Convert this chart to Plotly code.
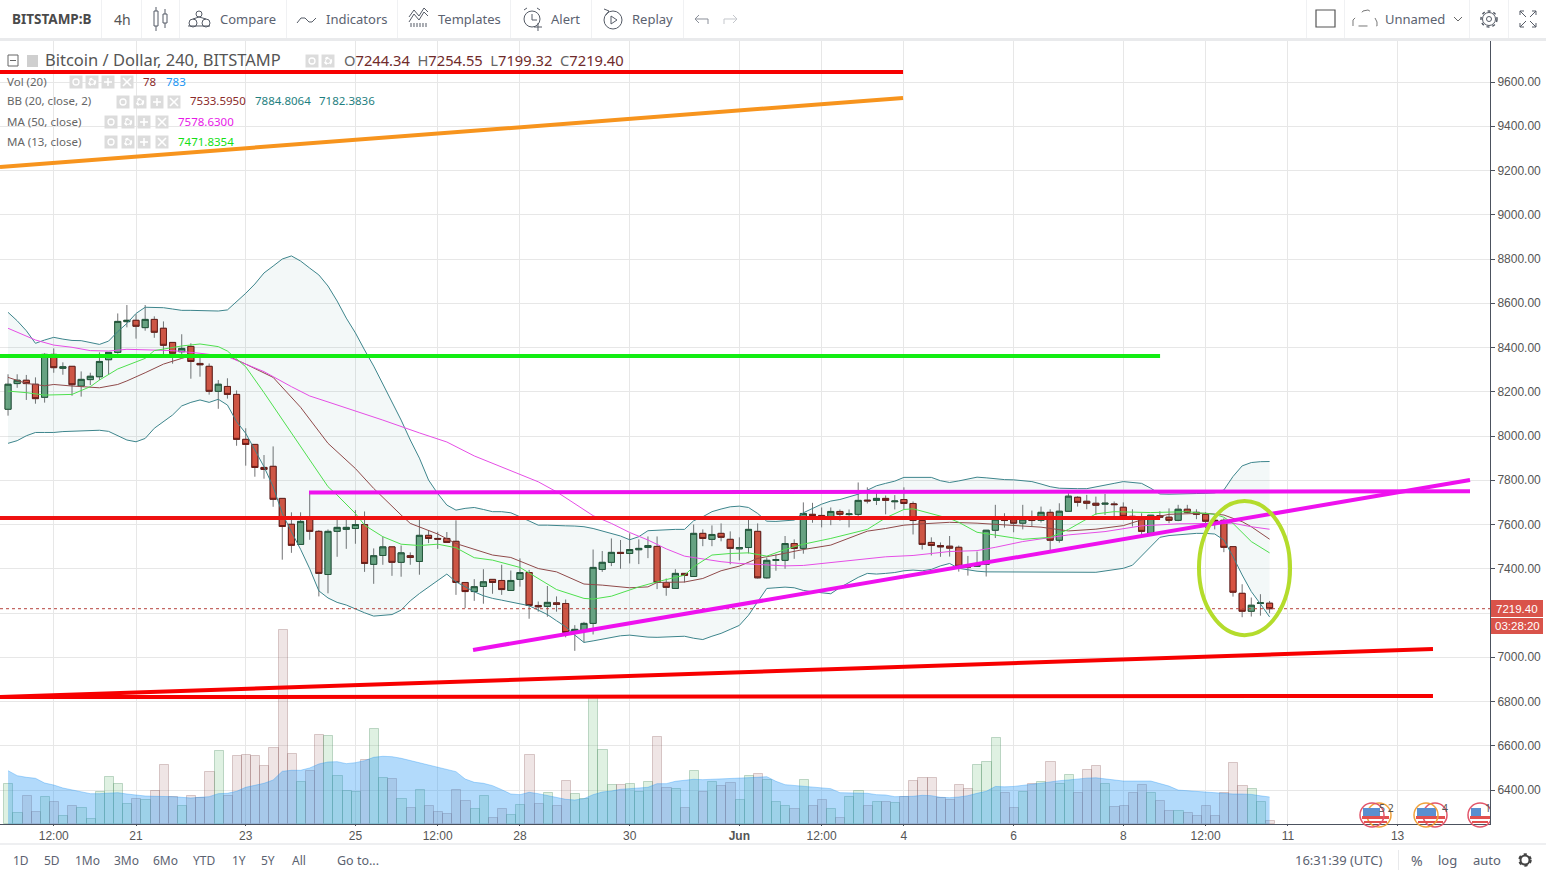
import pandas as pd
import plotly.graph_objects as go

START = "2018-05-18 16:00"
opens = [8121,8237,8252,8234,8175,8369,8306,8315,8226,8255,
8268,8345,8378,8517,8523,8490,8527,8487,8423,8381,
8405,8328,8315,8202,8224,8188,7985,7962,7858,7863,
7718,7601,7510,7623,7569,7374,7569,7578,7582,7600,
7420,7460,7499,7429,7459,7433,7551,7537,7537,7524,
7338,7297,7320,7352,7347,7302,7352,7383,7234,7230,
7246,7243,7112,7117,7153,7397,7429,7474,7469,7486,
7496,7501,7338,7311,7379,7365,7560,7533,7560,7533,
7490,7496,7569,7359,7438,7438,7514,7492,7646,7641,
7623,7659,7645,7646,7710,7709,7718,7703,7713,7695,
7618,7519,7505,7502,7497,7413,7411,7420,7574,7624,
7621,7606,7624,7619,7655,7529,7660,7723,7705,7696,
7692,7693,7678,7637,7633,7560,7640,7633,7619,7669,
7655,7646,7619,7619,7500,7289,7208,7243,7244.34]
highs = [8279,8279,8276,8265,8374,8396,8333,8315,8292,8286,
8378,8378,8554,8592,8551,8592,8541,8518,8423,8460,
8419,8365,8328,8253,8261,8206,8035,7962,7914,7953,
7718,7655,7655,7741,7575,7578,7638,7628,7665,7659,
7492,7545,7499,7505,7474,7623,7573,7567,7566,7619,
7338,7353,7398,7352,7418,7392,7447,7395,7252,7322,
7275,7261,7145,7160,7487,7480,7537,7530,7560,7533,
7546,7546,7356,7398,7379,7600,7578,7596,7605,7569,
7542,7623,7605,7451,7465,7548,7533,7700,7698,7677,
7677,7668,7668,7790,7768,7753,7731,7733,7768,7704,
7623,7542,7519,7548,7505,7458,7478,7574,7689,7651,
7639,7689,7663,7681,7669,7696,7750,7728,7734,7726,
7738,7704,7700,7669,7651,7642,7660,7673,7689,7689,
7669,7655,7643,7628,7500,7330,7270,7285,7254.55]
lows = [8092,8218,8163,8146,8151,8286,8277,8182,8178,8230,
8253,8277,8372,8491,8440,8476,8444,8363,8327,8365,
8259,8268,8187,8123,8169,7956,7866,7816,7807,7680,
7441,7472,7510,7531,7275,7289,7454,7490,7513,7386,
7332,7418,7368,7364,7418,7373,7516,7490,7519,7282,
7222,7255,7242,7287,7282,7302,7319,7174,7206,7183,
7206,7090,7029,7067,7103,7386,7412,7400,7424,7421,
7448,7308,7278,7311,7338,7365,7502,7502,7524,7420,
7438,7469,7356,7355,7391,7400,7445,7468,7608,7587,
7597,7617,7587,7623,7695,7688,7646,7668,7668,7555,
7487,7460,7454,7455,7387,7369,7410,7365,7539,7586,
7565,7578,7591,7609,7485,7518,7660,7681,7669,7643,
7643,7624,7633,7591,7547,7557,7628,7606,7615,7651,
7624,7583,7578,7475,7274,7181,7184,7188,7199.32]
closes = [8234,8252,8237,8169,8369,8309,8313,8232,8256,8270,
8337,8378,8518,8523,8496,8527,8469,8410,8374,8396,
8337,8322,8202,8234,8188,7985,7962,7858,7849,7714,
7591,7506,7614,7569,7379,7569,7587,7587,7600,7424,
7459,7499,7429,7472,7451,7551,7537,7534,7519,7338,
7297,7319,7341,7338,7306,7347,7383,7234,7228,7248,
7239,7112,7126,7153,7406,7429,7474,7469,7487,7492,
7505,7338,7316,7379,7370,7560,7537,7555,7542,7492,
7496,7578,7359,7438,7441,7514,7492,7650,7641,7623,
7659,7646,7648,7709,7707,7718,7709,7706,7695,7618,
7510,7505,7499,7493,7411,7408,7420,7574,7624,7618,
7606,7624,7618,7655,7529,7660,7728,7700,7696,7687,
7696,7690,7637,7633,7569,7642,7633,7619,7669,7655,
7646,7615,7616,7497,7294,7208,7235,7246,7219.40]
volumes = [1160,319,812,348,783,638,232,522,464,145,
928,1363,1160,580,725,696,967,1712,783,522,
812,754,1508,2118,812,1973,2002,1973,1683,2205,
5628,2031,1218,1538,2582,2553,1392,957,928,1857,
2756,1334,1305,725,464,986,522,348,290,986,
667,435,812,174,435,261,551,2002,580,899,
522,1247,870,725,3723,2147,1131,1131,1160,938,
1218,2524,1044,1015,464,1538,938,1218,1102,1189,
696,1392,1450,1276,638,522,435,1276,522,696,
435,174,783,957,522,638,638,609,783,1247,
1334,1334,754,696,1131,1015,1712,1800,2481,911,
471,942,1152,1225,1790,1173,1413,890,1570,1696,
1173,503,534,890,1131,911,660,377,377,314,
220,534,220,911,1759,1099,1005,628,78]
vol_ma = [1547,1402,1354,1325,1189,1131,1044,986,938,880,
880,890,909,870,832,812,803,803,793,774,
754,774,793,880,890,948,1064,1122,1180,1276,
1528,1557,1557,1625,1741,1799,1808,1750,1779,1837,
1934,1963,1953,1905,1837,1779,1712,1644,1567,1518,
1305,1209,1180,1112,996,870,851,919,880,822,
754,716,696,735,851,928,957,1006,1025,1035,
1064,1170,1170,1238,1257,1296,1286,1296,1305,1315,
1315,1334,1354,1373,1238,1141,1122,1102,1083,1054,
1025,909,899,909,890,851,841,793,793,803,
832,822,774,764,783,822,890,948,1089,1078,
1089,1131,1152,1183,1225,1256,1277,1309,1330,1340,
1309,1277,1246,1246,1246,1246,1173,1099,984,963,
942,932,890,869,869,869,859,817,783]
bb_upper = [8559,8521,8476,8419,8434,8446,8438,8432,8431,8423,
8414,8429,8472,8509,8554,8582,8582,8580,8574,8568,
8568,8567,8564,8565,8570,8607,8645,8687,8737,8768,
8800,8814,8791,8759,8728,8678,8610,8533,8466,8389,
8316,8235,8154,8072,7982,7900,7801,7740,7688,7665,
7673,7677,7668,7658,7658,7653,7635,7617,7597,7597,
7597,7594,7593,7590,7582,7570,7560,7548,7531,7545,
7572,7575,7576,7578,7578,7617,7635,7658,7670,7680,
7683,7677,7650,7615,7614,7617,7620,7653,7673,7692,
7706,7713,7725,7737,7755,7775,7786,7796,7813,7814,
7814,7813,7798,7790,7797,7805,7814,7811,7806,7803,
7802,7799,7794,7783,7771,7764,7762,7762,7762,7771,
7777,7786,7794,7791,7786,7764,7738,7737,7737,7738,
7740,7741,7743,7756,7817,7865,7880,7884,7884.81]
bb_lower = [7967,7979,8001,8016,8016,8016,8020,8021,8023,8026,
8026,8021,8001,7982,7974,7989,8035,8065,8095,8136,
8152,8163,8152,8166,8140,8065,8012,7937,7861,7771,
7650,7567,7488,7400,7300,7268,7248,7236,7218,7201,
7186,7189,7193,7213,7255,7288,7318,7349,7376,7341,
7319,7296,7278,7266,7258,7249,7243,7233,7213,7193,
7165,7138,7100,7067,7074,7082,7089,7097,7100,7094,
7091,7090,7091,7092,7095,7086,7080,7095,7108,7126,
7144,7190,7251,7311,7314,7317,7314,7302,7296,7290,
7287,7315,7337,7361,7379,7376,7379,7383,7391,7394,
7391,7397,7413,7424,7402,7395,7389,7386,7386,7386,
7384,7384,7384,7386,7387,7386,7384,7384,7384,7384,
7390,7395,7402,7416,7458,7503,7542,7550,7554,7557,
7560,7560,7557,7530,7455,7372,7297,7241,7182.38]
bb_mid_at = [0,2,4,5,7,10,12,13,15,17,19,20,21,24,26,29,32,35,38,40,43,44,47,49,53,55,58,60,63,65,68,70,71,74,76,78,80,82,84,87,90,94,96,98,100,103,106,110,113,116,119,122,124,127,131,133,135,136,138]
bb_mid = [8265,8238,8227,8233,8226,8218,8233,8249,8286,8325,8351,8363,8366,8363,8325,8265,8130,7967,7853,7763,7643,7605,7557,7514,7462,7451,7401,7386,7331,7326,7314,7318,7338,7340,7356,7391,7412,7447,7462,7487,7507,7570,7582,7597,7603,7610,7606,7594,7588,7571,7579,7595,7621,7646,7651,7643,7613,7590,7533.6]
ma13_at = [0,2,4,7,9,10,12,15,16,19,21,23,24,26,28,31,33,35,36,38,39,41,43,45,47,49,51,53,56,58,60,63,64,66,68,69,71,74,75,77,79,81,83,85,87,90,94,96,98,99,103,104,106,108,111,114,116,119,121,125,129,132,133,134,136,138]
ma13 = [8203,8196,8185,8188,8223,8253,8303,8351,8386,8407,8416,8404,8384,8313,8196,8012,7891,7771,7733,7650,7597,7545,7511,7505,7511,7495,7450,7439,7406,7356,7306,7266,7263,7276,7306,7318,7341,7371,7409,7462,7469,7472,7457,7487,7511,7537,7578,7630,7668,7671,7627,7610,7565,7553,7533,7542,7578,7648,7658,7654,7658,7646,7633,7605,7523,7471.84]
ma50_at = [0,3,5,7,9,11,13,16,18,21,24,26,28,31,33,35,37,41,45,48,51,54,55,58,60,62,64,66,68,70,72,74,75,78,80,82,85,87,90,94,96,99,103,106,108,111,114,116,120,124,128,131,134,136,138]
ma50 = [8487,8434,8411,8401,8386,8384,8392,8389,8386,8374,8359,8325,8291,8223,8181,8154,8127,8072,8014,7973,7910,7860,7846,7793,7748,7695,7640,7605,7564,7530,7490,7457,7450,7432,7424,7420,7413,7415,7428,7447,7454,7460,7478,7482,7497,7523,7542,7553,7568,7594,7603,7606,7606,7590,7578.63]

tick_dates = ["2018-05-19 12:00","2018-05-21","2018-05-23","2018-05-25","2018-05-26 12:00","2018-05-28","2018-05-30",
              "2018-06-01","2018-06-02 12:00","2018-06-04","2018-06-06","2018-06-08","2018-06-09 12:00","2018-06-11","2018-06-13"]
tick_labels = ["12:00","21","23","25","12:00","28","30","<b>Jun</b>","12:00","4","6","8","12:00","11","13"]
price_ticks = [6400,6600,6800,7000,7200,7400,7600,7800,8000,8200,8400,8600,8800,9000,9200,9400,9600]
price_labels = ["6400.00","6600.00","6800.00","7000.00","","7400.00","7600.00","7800.00","8000.00","8200.00","8400.00","8600.00","8800.00","9000.00","9200.00","9400.00","9600.00"]

XMIN, XMAX = "2018-05-18 12:29", "2018-06-14 16:27"
trend_lines = [
    ("#f70000", 4, [XMIN, "2018-06-03 23:37"], [9645, 9645]),
    ("#f7941d", 4, [XMIN, "2018-06-03 23:37"], [9216, 9528]),
    ("#13ed13", 4, [XMIN, "2018-06-08 16:05"], [8362, 8362]),
    ("#ee1111", 4, [XMIN, "2018-06-08 16:05"], [7629, 7629]),
    ("#ee11ee", 4, ["2018-05-24 03:42", "2018-06-14 07:42"], [7745, 7750]),
    ("#ee11ee", 4, ["2018-05-27 03:28", "2018-06-14 07:42"], [7033, 7801]),
    ("#f70000", 4, [XMIN, "2018-06-13 15:30"], [6820, 7037]),
    ("#f70000", 4, [XMIN, "2018-06-13 15:30"], [6820, 6825]),
]

dates = pd.date_range(START, periods=len(opens), freq="4h")
W, H = 1546, 876
L, R, T, B = 0, 1490, 40, 824

def fx(x): return (x - L) / (R - L)
def fy(y): return (B - y) / (B - T)

annotations, shapes = [], []
def label(x, y, text, size=12, color="#555", anchor="left", family="Noto Sans"):
    annotations.append(dict(xref="paper", yref="paper", x=fx(x), y=fy(y), text=text, showarrow=False,
                            xanchor=anchor, yanchor="middle", align=anchor, borderpad=0,
                            font=dict(size=size, color=color, family=family)))
def rect(x0, y0, x1, y1, fill="rgba(0,0,0,0)", line=None, w=1):
    shapes.append(dict(type="rect", xref="paper", yref="paper", x0=fx(x0), x1=fx(x1), y0=fy(y0), y1=fy(y1),
                       fillcolor=fill, line=dict(color=line or fill, width=w if line else 0), layer="above"))
def circ(cx, cy, r, line="#555", w=1, fill="rgba(0,0,0,0)", dash="solid"):
    shapes.append(dict(type="circle", xref="paper", yref="paper", x0=fx(cx-r), x1=fx(cx+r), y0=fy(cy-r), y1=fy(cy+r),
                       fillcolor=fill, line=dict(color=line, width=w, dash=dash), layer="above"))
def poly(pts, line="#555", w=1, dash="solid"):
    p = "M " + " L ".join(f"{fx(a):.5f} {fy(b):.5f}" for a, b in pts)
    shapes.append(dict(type="path", xref="paper", yref="paper", path=p, line=dict(color=line, width=w, dash=dash), layer="above"))

fig = go.Figure()
# volume on the base axis, price overlaid
vol_colors = ["rgba(110,190,125,0.22)" if c >= o else "rgba(160,100,100,0.17)" for o, c in zip(opens, closes)]
vol_lines = ["rgba(90,150,110,0.35)" if c >= o else "rgba(130,80,80,0.28)" for o, c in zip(opens, closes)]
fig.add_trace(go.Bar(x=dates, y=volumes, width=14400000, offset=-5900000,
                     marker=dict(color=vol_colors, line=dict(color=vol_lines, width=1)), yaxis="y", xaxis="x"))
fig.add_trace(go.Scatter(x=dates, y=vol_ma, mode="lines", fill="tozeroy", fillcolor="rgba(33,150,243,0.35)",
                         line=dict(color="rgba(33,150,243,0.35)", width=1), yaxis="y"))
# Bollinger band
fig.add_trace(go.Scatter(x=dates, y=bb_upper, mode="lines", line=dict(color="#3d858c", width=1), yaxis="y2"))
fig.add_trace(go.Scatter(x=dates, y=bb_lower, mode="lines", line=dict(color="#3d858c", width=1), yaxis="y2",
                         fill="tonexty", fillcolor="rgba(38,128,128,0.055)"))
fig.add_trace(go.Scatter(x=[dates[i] for i in bb_mid_at], y=bb_mid, mode="lines", line=dict(color="#8f4a4a", width=1), yaxis="y2"))
fig.add_trace(go.Scatter(x=[dates[i] for i in ma50_at], y=ma50, mode="lines", line=dict(color="#e64ee6", width=1), yaxis="y2"))
fig.add_trace(go.Scatter(x=[dates[i] for i in ma13_at], y=ma13, mode="lines", line=dict(color="#4fe04f", width=1), yaxis="y2"))
# last price line and drawn trend lines sit under the candles
fig.add_trace(go.Scatter(x=[XMIN, XMAX], y=[closes[-1]] * 2, mode="lines", line=dict(color="#b5433d", width=1, dash="dot"), yaxis="y2"))
for color, width, xs, ys in trend_lines:
    fig.add_trace(go.Scatter(x=xs, y=ys, mode="lines", line=dict(color=color, width=width), yaxis="y2"))
# wicks, then bodies
WICK = "#737375"
fig.add_trace(go.Candlestick(x=dates, open=opens, high=highs, low=lows, close=closes, yaxis="y2",
    increasing=dict(line=dict(color=WICK, width=1), fillcolor=WICK),
    decreasing=dict(line=dict(color=WICK, width=1), fillcolor=WICK)))
fig.add_trace(go.Candlestick(x=dates, open=opens, close=closes, yaxis="y2",
    high=[max(o, c) for o, c in zip(opens, closes)], low=[min(o, c) for o, c in zip(opens, closes)],
    increasing=dict(line=dict(color="#225437", width=1), fillcolor="#6ba583"),
    decreasing=dict(line=dict(color="#6b1a15", width=1), fillcolor="#d75442")))
shapes.append(dict(type="circle", xref="x", yref="y2", x0="2018-06-09 09:07", x1="2018-06-11 00:58", y0=7100, y1=7706,
                   line=dict(color="#b4dc2c", width=4), layer="above"))

# chrome: toolbars
rect(0, 0, W, 38, "#ffffff")
rect(0, 38, W, 41, "#e9eaec")
rect(0, 843, W, 845, "#eeeff1")
for x in [101, 141, 179, 286, 397, 510, 591, 683, 1306, 1344, 1469, 1508]:
    rect(x, 0, x + 1, 38, "#f0f1f3")
rect(1398, 850, 1399, 870, "#e8e9eb")

label(11, 19, "<b>BITSTAMP:B</b>", 13.5, "#4a4a4a")
label(122, 19, "4h", 14, "#555", "center")
label(219, 19, "Compare", 13, "#5b6270")
label(325, 19, "Indicators", 13, "#5b6270")
label(437, 19, "Templates", 13, "#5b6270")
label(550, 19, "Alert", 13, "#5b6270")
label(631, 19, "Replay", 13, "#5b6270")
label(1384, 19, "Unnamed", 13, "#5b6270")

IC = "#555b66"
# candle icon
rect(154, 11, 158, 26, line=IC); poly([(156, 7), (156, 11)], IC); poly([(156, 26), (156, 31)], IC)
rect(163, 14, 167, 23, line=IC); poly([(165, 9), (165, 14)], IC); poly([(165, 23), (165, 28)], IC)
# compare icon
circ(193, 23, 4, IC); circ(206, 23, 4, IC); circ(199, 14, 3, IC); poly([(193, 19), (199, 17), (206, 19)], IC); poly([(188, 26), (210, 26)], IC)
# indicators icon
poly([(297, 23), (301, 18), (305, 18), (309, 22), (312, 22), (316, 18)], IC)
# templates icon
poly([(409, 22), (414, 14), (419, 20), (424, 12), (428, 16)], IC); poly([(409, 17), (414, 10), (419, 16), (424, 8), (428, 12)], IC)
for x in [411, 414, 417, 420, 423, 426]:
    poly([(x, 27), (x, 23)], IC)
# alert icon
circ(532, 19, 8, IC); poly([(532, 14), (532, 20), (537, 20)], IC); poly([(524, 10), (527, 8)], IC); poly([(540, 10), (537, 8)], IC); poly([(534, 27), (542, 27)], IC); poly([(538, 23), (538, 31)], IC)
# replay icon
circ(613, 20, 9, IC); poly([(611, 16), (617, 20), (611, 24), (611, 16)], IC); poly([(604, 9), (609, 11), (606, 15)], IC)
# undo / redo
poly([(696, 19), (708, 19), (708, 24)], "#8a8f99"); poly([(699, 15), (695, 19), (699, 23)], "#8a8f99")
poly([(736, 19), (724, 19), (724, 24)], "#c4c7cc"); poly([(733, 15), (737, 19), (733, 23)], "#c4c7cc")
# right side icons
rect(1316, 10, 1335, 27, line="#555", w=1.2)
poly([(1353, 26), (1353, 20), (1356, 17), (1360, 15), (1363, 11), (1368, 10), (1373, 13), (1375, 18), (1377, 22), (1377, 26), (1353, 26)], "#777", 1, "dash")
poly([(1454, 17), (1458, 21), (1462, 17)], "#666")
circ(1489, 19, 8, IC, 1.5, dash="dot"); circ(1489, 19, 6.5, IC, 1); circ(1489, 19, 2.5, IC)
for a, b in [((1520, 11), (1526, 17)), ((1536, 11), (1530, 17)), ((1520, 27), (1526, 21)), ((1536, 27), (1530, 21))]:
    poly([a, b], IC)
for p in [[(1520, 15), (1520, 11), (1524, 11)], [(1532, 11), (1536, 11), (1536, 15)], [(1520, 23), (1520, 27), (1524, 27)], [(1532, 27), (1536, 27), (1536, 23)]]:
    poly(p, IC)

# bottom bar
for x, t in [(21, "1D"), (52, "5D"), (87, "1Mo"), (126, "3Mo"), (165, "6Mo"), (204, "YTD"), (239, "1Y"), (268, "5Y"), (299, "All")]:
    label(x, 860, t, 12, "#5b6270", "center")
label(358, 860, "Go to...", 12.5, "#5b6270", "center")
label(1339, 860, "16:31:39 (UTC)", 13, "#5b6270", "center")
label(1417, 860, "%", 14, "#5b6270", "center")
label(1447, 860, "log", 13, "#5b6270", "center")
label(1487, 860, "auto", 13, "#5b6270", "center")
circ(1525, 860, 5.5, "#444", 2.5, dash="dot"); circ(1525, 860, 4.5, "#444", 2)

# small legend buttons: ring, gear, plus, cross
def btn_ring(x, y):
    rect(x - 6.5, y - 6.5, x + 6.5, y + 6.5, "#dcdcdc"); circ(x, y, 3, "#fff", 1.3)
def btn_gear(x, y):
    rect(x - 6.5, y - 6.5, x + 6.5, y + 6.5, "#dcdcdc"); circ(x, y, 3.2, "#fff", 2, dash="dot"); circ(x, y, 2.5, "#fff", 1)
def btn_plus(x, y):
    rect(x - 6.5, y - 6.5, x + 6.5, y + 6.5, "#dcdcdc"); poly([(x - 4, y), (x + 4, y)], "#fff", 1.6); poly([(x, y - 4), (x, y + 4)], "#fff", 1.6)
def btn_cross(x, y):
    rect(x - 6.5, y - 6.5, x + 6.5, y + 6.5, "#dcdcdc"); poly([(x - 4, y - 4), (x + 4, y + 4)], "#fff", 1.6); poly([(x - 4, y + 4), (x + 4, y - 4)], "#fff", 1.6)
def btns(xs, y):
    btn_ring(xs[0], y); btn_gear(xs[1], y); btn_plus(xs[2], y); btn_cross(xs[3], y)

# legend block
rect(8, 55, 18, 66, line="#666"); poly([(10, 60.5), (16, 60.5)], "#666")
rect(27, 55, 38, 67, "#cfcfcf")
label(44, 60, "Bitcoin / Dollar, 240, BITSTAMP", 16.5, "#555")
btn_ring(312, 61); btn_gear(328, 61)
DR = "#6f2a2a"
label(343, 60, f"<span style='color:#666'>O</span>7244.34  <span style='color:#666'>H</span>7254.55  <span style='color:#666'>L</span>7199.32  <span style='color:#666'>C</span>7219.40", 14.7, DR)
label(6, 81, "Vol (20)", 11.5, "#666"); btns([76, 92, 108, 127], 82)
label(142, 81, "78", 11.5, "#8b2b2b"); label(165, 81, "783", 11.5, "#2196f3")
label(6, 101, "BB (20, close, 2)", 11.5, "#666"); btns([123, 140, 157, 174], 102)
label(189, 101, "7533.5950", 11.5, "#8b2b2b"); label(254, 101, "7884.8064", 11.5, "#1f7f7f"); label(318, 101, "7182.3836", 11.5, "#1f7f7f")
label(6, 121, "MA (50, close)", 11.5, "#666"); btns([111, 128, 144, 162], 122)
label(177, 121, "7578.6300", 11.5, "#e81ae8")
label(6, 141, "MA (13, close)", 11.5, "#666"); btns([111, 128, 144, 162], 142)
label(177, 141, "7471.8354", 11.5, "#14e014")

# price tags
rect(1491, 600, 1543, 617, "#d9534a"); label(1517, 608.5, "7219.40", 11.5, "#fff", "center", "Liberation Sans")
rect(1491, 618, 1543, 634, "#d9534a"); label(1517, 626, "03:28:20", 11.5, "#fff", "center", "Liberation Sans")

# event flags
def flag(cx, cy, ring):
    rect(cx - 9, cy - 7, cx + 1, cy + 1, "#5a8fd0")
    rect(cx - 10, cy + 1, cx + 10, cy + 4, "#e2504f")
    rect(cx - 8, cy + 6, cx + 8, cy + 8, "#e2504f")
    circ(cx, cy, 12, ring, 1.5)
flag(1379, 815, "#f0a23c"); flag(1372, 815, "#e2556a")
flag(1435, 815, "#e2556a"); flag(1426, 815, "#f0a23c")
flag(1480, 815, "#e2556a")
rect(1491, 800, 1505, 829, "#ffffff")
label(1378, 808, "5 2", 10.5, "#555"); label(1441, 808, "4", 10.5, "#555"); label(1484, 808, "1", 10.5, "#555")
poly([(1490.5, 800), (1490.5, 824)], "#4c525e")

fig.update_layout(
    width=W, height=H, margin=dict(l=L, r=W - R, t=T, b=H - B),
    paper_bgcolor="#ffffff", plot_bgcolor="#ffffff", showlegend=False, boxgap=0.05, bargap=0,
    annotations=annotations, shapes=shapes, hovermode=False,
    font=dict(family="Liberation Sans", size=12, color="#555"),
    xaxis=dict(type="date", range=[XMIN, XMAX], tickmode="array", tickvals=tick_dates, ticktext=tick_labels,
               rangeslider=dict(visible=False), showgrid=True, gridcolor="#e7e7e7", gridwidth=1,
               showline=True, linecolor="#4c525e", linewidth=1, ticks="outside", ticklen=1, tickcolor="#4c525e",
               tickfont=dict(size=12, color="#555"), zeroline=False),
    yaxis=dict(domain=[0, 1], range=[0, 22736], visible=False, showgrid=False, zeroline=False, fixedrange=True),
    yaxis2=dict(overlaying="y", side="right", range=[6246.3, 9790], tickmode="array", tickvals=price_ticks,
                ticktext=price_labels, showgrid=True, gridcolor="#e7e7e7", gridwidth=1, showline=True, linecolor="#4c525e",
                linewidth=1, ticks="outside", ticklen=4, tickcolor="#4c525e", tickfont=dict(size=12, color="#555"),
                zeroline=False, anchor="x"),
)
fig.write_html("out.html", config=dict(displayModeBar=False),
               post_script="document.body.style.margin='0';document.body.style.overflow='hidden';")
